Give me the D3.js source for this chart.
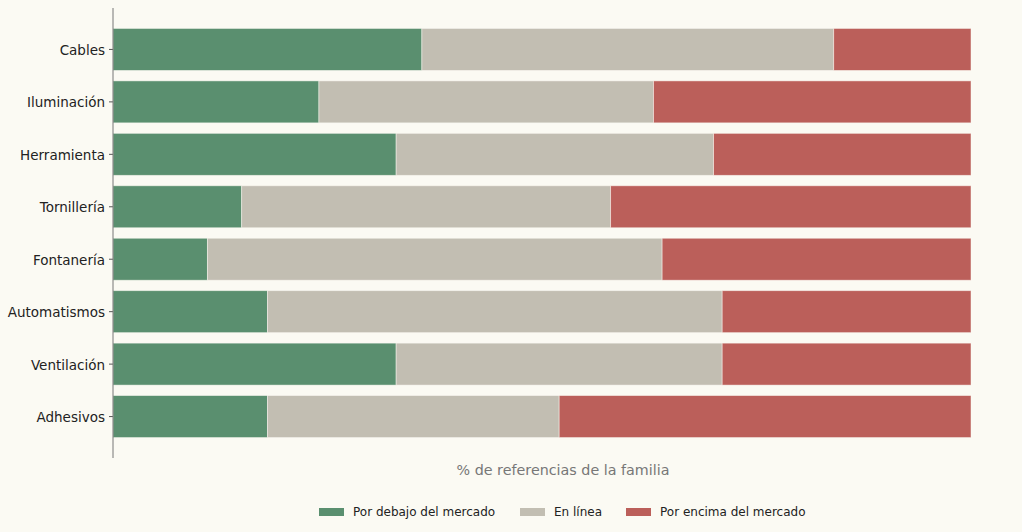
<!DOCTYPE html>
<html>
<head>
<meta charset="utf-8">
<script src="https://cdn.jsdelivr.net/npm/d3@7"></script>
<style>
  body { margin: 0; background: #fbfaf3; }
  svg { display: block; font-family: "DejaVu Sans", sans-serif; }
</style>
</head>
<body>
<svg width="1022" height="532"></svg>
<script>
// families, top to bottom
var families = ["Cables", "Iluminación", "Herramienta", "Tornillería", "Fontanería", "Automatismos", "Ventilación", "Adhesivos"];
// % of references per family
var below = [36, 24, 33, 15, 11, 18, 33, 18];
var inline = [48, 39, 37, 43, 53, 53, 38, 34];
var above = [16, 37, 30, 42, 36, 29, 29, 48];

var seriesNames = ["Por debajo del mercado", "En línea", "Por encima del mercado"];
var seriesKeys = ["below", "inline", "above"];
var colors = ["#5a8f6f", "#c2beb2", "#bb5f5a"];

var rows = families.map((f, i) => ({family: f, below: below[i], inline: inline[i], above: above[i]}));

var margin = {top: 8, left: 113, right: 51};
var width = 1022, plotBottom = 458;

var svg = d3.select("svg");

var x = d3.scaleLinear()
    .domain([0, 100])
    .range([margin.left, width - margin.right]);

var y = d3.scaleBand()
    .domain(families)
    .range([margin.top, plotBottom])
    .paddingInner(0.2)
    .paddingOuter(0.39);

var stack = d3.stack().keys(seriesKeys);
var layers = stack(rows);

svg.append("g")
    .selectAll("g")
    .data(layers)
    .join("g")
    .attr("fill", (d, i) => colors[i])
    .selectAll("rect")
    .data(d => d)
    .join("rect")
    .attr("x", d => x(d[0]))
    .attr("width", d => x(d[1]) - x(d[0]))
    .attr("y", d => y(d.data.family))
    .attr("height", y.bandwidth())
    .attr("stroke", "#fbfaf3")
    .attr("stroke-opacity", 0.6)
    .attr("stroke-width", 0.8);

// left axis
var yAxis = svg.append("g")
    .attr("transform", `translate(${margin.left},0)`)
    .attr("font-family", "DejaVu Sans, sans-serif")
    .call(d3.axisLeft(y).tickSize(4).tickPadding(4));
yAxis.select(".domain").remove();
yAxis.selectAll(".tick line").attr("stroke", "#555");
yAxis.selectAll("text")
    .attr("fill", "#222")
    .attr("dy", "0.4em")
    .style("font-family", "DejaVu Sans, sans-serif")
    .style("font-size", "13.5px");

svg.append("line")
    .attr("x1", margin.left).attr("x2", margin.left)
    .attr("y1", margin.top).attr("y2", plotBottom)
    .attr("stroke", "#777")
    .attr("stroke-width", 1);

// axis title
svg.append("text")
    .attr("x", 563)
    .attr("y", 475)
    .attr("text-anchor", "middle")
    .attr("fill", "#777")
    .style("font-size", "14.3px")
    .text("% de referencias de la familia");

// legend
var legendX = [319, 520, 626];
var legend = svg.append("g")
    .selectAll("g")
    .data(seriesNames)
    .join("g")
    .attr("transform", (d, i) => `translate(${legendX[i]},508)`);

legend.append("rect")
    .attr("width", 25)
    .attr("height", 8)
    .attr("fill", (d, i) => colors[i]);

legend.append("text")
    .attr("x", 34)
    .attr("y", 4)
    .attr("dy", "0.35em")
    .attr("fill", "#222")
    .style("font-size", "12px")
    .text(d => d);
</script>
</body>
</html>
